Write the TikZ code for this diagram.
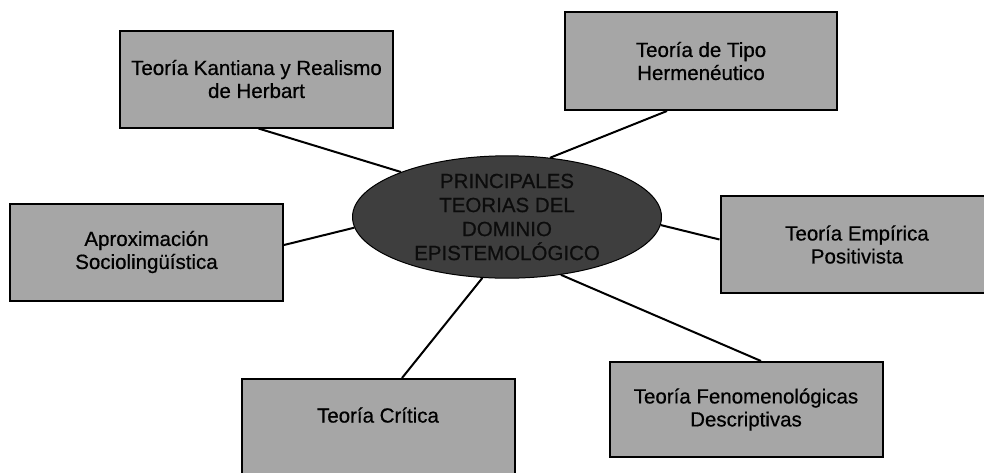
\documentclass[tikz,border=0pt]{standalone}
\usepackage{fontspec}
\setmainfont{Liberation Serif}
\newfontfamily\diagfont{Liberation Sans}[FakeBold=0.6]
\usetikzlibrary{shapes.geometric}
\definecolor{boxgray}{RGB}{166,166,166}
\definecolor{hubgray}{RGB}{62,62,62}
\definecolor{hubink}{RGB}{12,12,12}

\tikzset{
  theory/.style={draw=black,line width=2pt,fill=boxgray,minimum width=273pt,
    minimum height=97pt,align=center,inner sep=0pt,
    font=\diagfont\fontsize{20.5}{23}\selectfont},
  hub/.style={ellipse,draw=black,line width=1pt,fill=hubgray,minimum width=309pt,
    minimum height=120pt,align=center,inner sep=0pt,
    font=\diagfont\fontsize{20.5}{24}\selectfont\color{hubink}},
  spoke/.style={line width=2pt,black}
}

\begin{document}
\begin{tikzpicture}[x=1pt,y=-1pt]
  \useasboundingbox (0,0) rectangle (984,472);
  \clip (0,0) rectangle (984,472);
  % central ellipse
  \node[hub] (hub) at (507,217) {PRINCIPALES\\TEORIAS DEL\\DOMINIO\\EPISTEMOLÓGICO};
  % theory boxes
  \node[theory] (kant) at (256.5,79) {Teoría Kantiana y Realismo\\de Herbart};
  \node[theory,minimum width=272pt,minimum height=98pt] (herm) at (701,61) {Teoría de Tipo\\Hermenéutico};
  \node[theory] (aprox) at (146.5,252) {Aproximación\\Sociolingüística};
  \node[theory] (empir) at (857,244.5) {Teoría Empírica\\Positivista};
  \node[theory,minimum height=112pt,text depth=40pt,anchor=north] (crit) at (378,378) {Teoría Crítica};
  \node[theory,minimum height=95pt] (fenom) at (746,409.5) {Teoría Fenomenológicas\\Descriptivas};
  % connectors
  \draw[spoke] (kant.south)++(2,0) coordinate (k1) -- (hub.157);
  \draw[spoke] (herm.south)++(-34,0) coordinate (h1) -- (hub.54);
  \draw[spoke] (aprox.east)++(0,-7) coordinate (a1) -- (hub.184);
  \draw[spoke] (empir.west)++(0,-5) coordinate (e1) -- (hub.357);
  \draw[spoke] (crit.north)++(24,0) coordinate (c1) -- (hub.248);
  \draw[spoke] (fenom.north)++(15,0) coordinate (f1) -- (hub.313);
\end{tikzpicture}
\end{document}
